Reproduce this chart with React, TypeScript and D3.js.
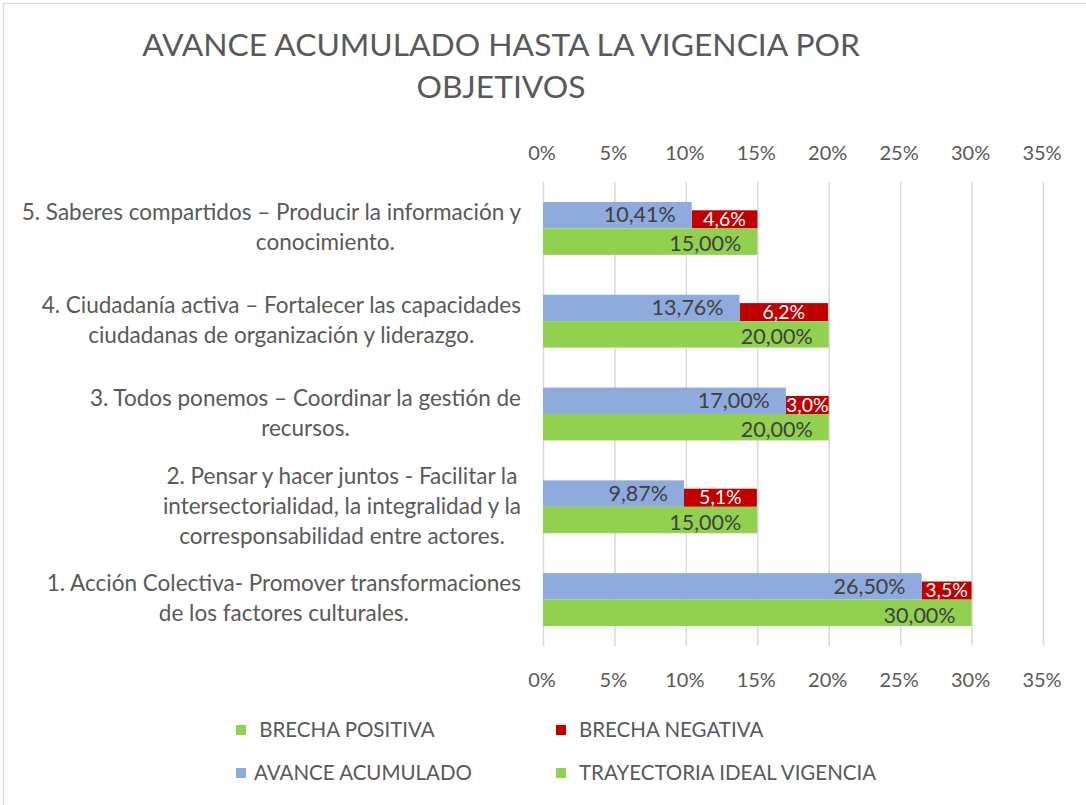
import React, { useEffect, useRef } from "react";
import * as d3 from "d3";

const TITLE_LINES = ["AVANCE ACUMULADO HASTA LA VIGENCIA POR", "OBJETIVOS"];

// categories, top to bottom as drawn
const CATEGORIES = ["5", "4", "3", "2", "1"];
const CATEGORY_LABELS: string[][] = [
  ["5. Saberes compartidos – Producir la información y", "conocimiento."],
  ["4. Ciudadanía activa – Fortalecer las capacidades", "ciudadanas de organización y liderazgo."],
  ["3. Todos ponemos – Coordinar la gestión de", "recursos."],
  ["2. Pensar y hacer juntos - Facilitar la", "intersectorialidad, la integralidad y la", "corresponsabilidad entre actores."],
  ["1. Acción Colectiva- Promover transformaciones", "de los factores culturales."],
];
const AVANCE = [10.41, 13.76, 17.0, 9.87, 26.5];
const BRECHA_NEG = [4.6, 6.2, 3.0, 5.1, 3.5];
const BRECHA_POS = [0, 0, 0, 0, 0];
const TRAYECTORIA = [15, 20, 20, 15, 30];
const TICKS = [0, 5, 10, 15, 20, 25, 30, 35];

const LEGEND = [
  { label: " BRECHA POSITIVA", color: "#92d050" },
  { label: "BRECHA NEGATIVA", color: "#c00000" },
  { label: "AVANCE ACUMULADO", color: "#8faadc" },
  { label: "TRAYECTORIA IDEAL VIGENCIA", color: "#92d050" },
];

const FONT = "Lato, 'Open Sans', sans-serif";
const BLUE = "#8faadc";
const RED = "#c00000";
const GREEN = "#92d050";
const TXT = "#595959";
const DARK = "#404040";

export default function App() {
  const ref = useRef<SVGSVGElement>(null);

  useEffect(() => {
    const svg = d3.select(ref.current);
    svg.selectAll("*").remove();

    const W = 1086, H = 805;
    const plot = { left: 543, right: 1043, top: 182, bottom: 646 };
    const x = d3.scaleLinear().domain([0, 35]).range([plot.left, plot.right]);
    const y = d3.scaleBand().domain(CATEGORIES).range([plot.top, plot.bottom]);
    const bw = y.bandwidth();
    const barH = bw * 0.285;
    const redH = bw * 0.195;
    const fsTick = 20;
    const fsData = 21.5;
    const fsRed = 19.5;
    const fsCat = 22.5;
    const fsLeg = 20.5;

    svg.append("rect").attr("x", 0).attr("y", 0).attr("width", W).attr("height", H).attr("fill", "#fff");
    svg.append("rect").attr("x", 3.5).attr("y", 3.5).attr("width", W + 20).attr("height", H + 20)
      .attr("fill", "none").attr("stroke", "#d9d9d9").attr("stroke-width", 1.2);

    // title
    const title = svg.append("text").attr("font-family", FONT).attr("font-size", 31.8).attr("fill", TXT)
      .attr("text-anchor", "middle");
    TITLE_LINES.forEach((t, i) => {
      title.append("tspan").attr("x", 501).attr("y", 56 + i * 42).text(t);
    });

    // gridlines
    svg.append("g").selectAll("line").data(TICKS).join("line")
      .attr("x1", (d) => x(d) + 0.5).attr("x2", (d) => x(d) + 0.5)
      .attr("y1", plot.top).attr("y2", plot.bottom)
      .attr("stroke", "#d9d9d9").attr("stroke-width", 1.5);

    // tick labels top and bottom
    [160, 687].forEach((yy) => {
      svg.append("g").selectAll("text").data(TICKS).join("text")
        .attr("x", (d) => x(d) - 1).attr("y", yy).attr("text-anchor", "middle")
        .attr("font-family", FONT).attr("font-size", fsTick).attr("fill", TXT)
        .text((d) => `${d}%`);
    });

    const fmt2 = (v: number) => d3.format(".2f")(v).replace(".", ",") + "%";
    const fmt1 = (v: number) => d3.format(".1f")(v).replace(".", ",") + "%";

    const g = svg.append("g");
    CATEGORIES.forEach((c, i) => {
      const cy = (y(c) as number) + bw / 2;
      // red (brecha negativa) stacked after avance
      g.append("rect").attr("x", x(AVANCE[i])).attr("y", cy - redH)
        .attr("width", x(AVANCE[i] + BRECHA_NEG[i]) - x(AVANCE[i])).attr("height", redH).attr("fill", RED);
      // blue avance
      g.append("rect").attr("x", x(0)).attr("y", cy - barH)
        .attr("width", x(AVANCE[i]) - x(0)).attr("height", barH).attr("fill", BLUE);
      // green trayectoria
      g.append("rect").attr("x", x(0)).attr("y", cy)
        .attr("width", x(TRAYECTORIA[i]) - x(0)).attr("height", barH).attr("fill", GREEN);
      // brecha positiva (zero)
      g.append("rect").attr("x", x(TRAYECTORIA[i])).attr("y", cy)
        .attr("width", x(TRAYECTORIA[i] + BRECHA_POS[i]) - x(TRAYECTORIA[i])).attr("height", barH).attr("fill", GREEN);

      // labels
      g.append("text").attr("x", x(AVANCE[i]) - 16).attr("y", cy - 6)
        .attr("text-anchor", "end").attr("font-family", FONT).attr("font-size", fsData).attr("fill", DARK)
        .text(fmt2(AVANCE[i]));
      g.append("text").attr("x", x(TRAYECTORIA[i]) - 16).attr("y", cy + 23)
        .attr("text-anchor", "end").attr("font-family", FONT).attr("font-size", fsData).attr("fill", DARK)
        .text(fmt2(TRAYECTORIA[i]));
      g.append("text").attr("x", x(AVANCE[i] + BRECHA_NEG[i] / 2)).attr("y", cy - 2.5)
        .attr("text-anchor", "middle").attr("font-family", FONT).attr("font-size", fsRed).attr("fill", "#fff")
        .text(fmt1(BRECHA_NEG[i]));

      // category label (block right-aligned, lines centred)
      const lines = CATEGORY_LABELS[i];
      const lh = 30;
      const t = g.append("text").attr("font-family", FONT).attr("font-size", fsCat).attr("fill", TXT)
        .attr("text-anchor", "middle");
      const spans = lines.map((ln, k) =>
        t.append("tspan").attr("y", cy + (k - (lines.length - 1) / 2) * lh - 1).attr("dy", "0.35em").text(ln)
      );
      const maxW = d3.max(spans, (s) => (s.node() as SVGTSpanElement).getComputedTextLength()) || 0;
      const cx = 521 - maxW / 2;
      spans.forEach((s, k) => {
        // first label's wrapped second line sits further right in the original
        const shift = i === 0 && k === 1 ? 54 : 0;
        s.attr("x", cx + shift);
      });
    });

    // legend
    const leg = svg.append("g");
    const pos = [
      [236, 730, 18], [556, 730, 23], [236, 773, 18], [556, 773, 23],
    ];
    LEGEND.forEach((l, i) => {
      const [lx, ly, off] = pos[i];
      leg.append("rect").attr("x", lx).attr("y", ly - 5).attr("width", 10).attr("height", 10).attr("fill", l.color);
      leg.append("text").attr("x", lx + off).attr("y", ly).attr("dy", "0.35em")
        .attr("font-family", FONT).attr("font-size", fsLeg).attr("fill", TXT)
        .attr("xml:space", "preserve").style("white-space", "pre").text(l.label);
    });
  }, []);

  return (
    <svg ref={ref} width={1086} height={805}
      style={{ position: "absolute", left: 0, top: 0, display: "block" }} />
  );
}
